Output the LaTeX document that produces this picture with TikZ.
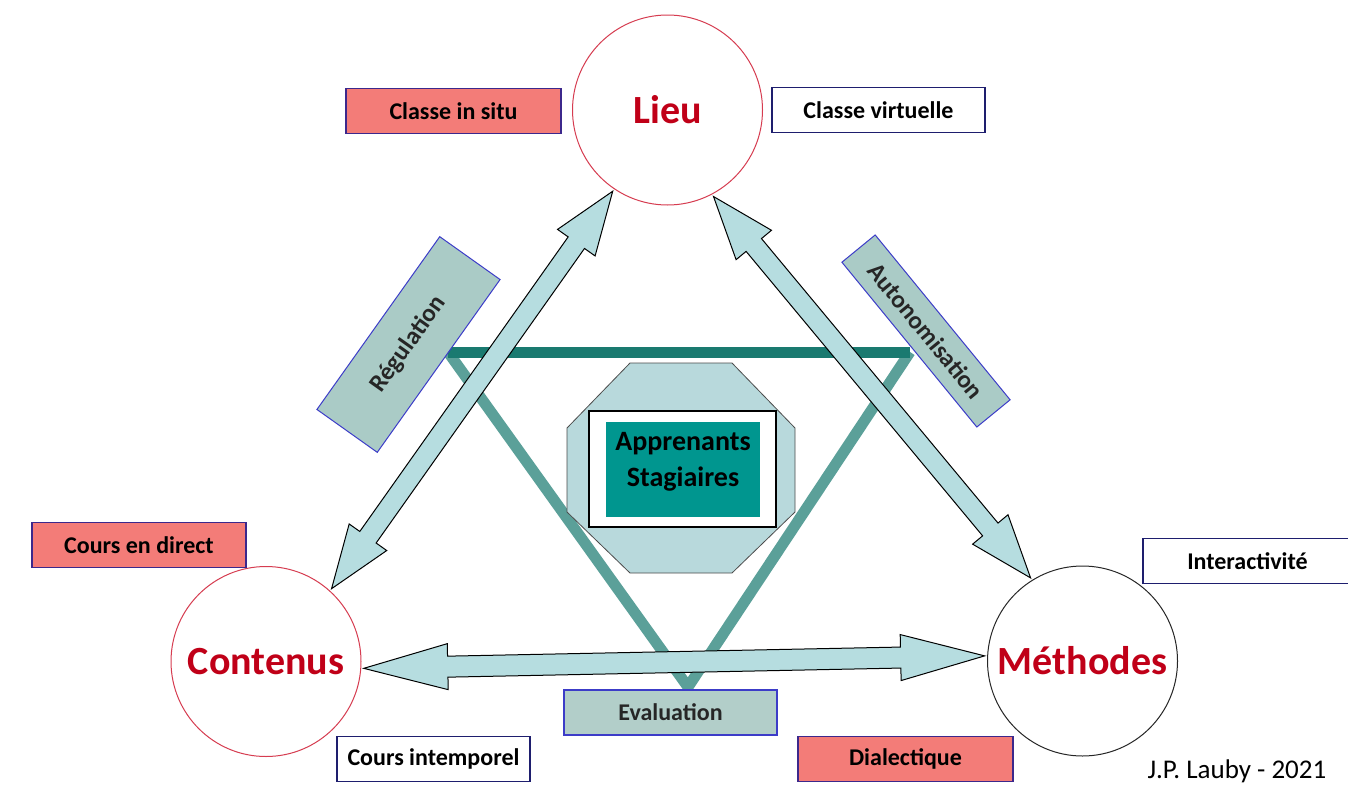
\documentclass[tikz,border=0pt]{standalone}
\usepackage{fontspec}
\setmainfont{Carlito}
\usetikzlibrary{calc}
\definecolor{pinkfill}{RGB}{243,124,120}
\definecolor{pinkborder}{RGB}{60,40,140}
\definecolor{navyborder}{RGB}{30,30,110}
\definecolor{evalfill}{RGB}{178,206,201}
\definecolor{blueborder}{RGB}{60,60,200}
\definecolor{rotfill}{RGB}{170,203,198}
\definecolor{arrfill}{RGB}{182,221,224}
\definecolor{octfill}{RGB}{184,217,220}
\definecolor{tealbox}{RGB}{0,150,143}
\definecolor{barcol}{RGB}{26,122,112}
\definecolor{sidecol}{RGB}{91,160,153}
\definecolor{circred}{RGB}{214,60,80}
\definecolor{labred}{RGB}{192,0,24}
\newcommand{\dblarr}[5]{%
  \fill[arrfill, draw=black, line width=1pt, line join=miter]
    (#1) -- ($($(#1)!#3!(#2)$)!#5!90:(#2)$) -- ($($(#1)!#3!(#2)$)!#4!90:(#2)$)
    -- ($($(#2)!#3!(#1)$)!#4!-90:(#1)$) -- ($($(#2)!#3!(#1)$)!#5!-90:(#1)$)
    -- (#2) -- ($($(#2)!#3!(#1)$)!#5!90:(#1)$) -- ($($(#2)!#3!(#1)$)!#4!90:(#1)$)
    -- ($($(#1)!#3!(#2)$)!#4!-90:(#2)$) -- ($($(#1)!#3!(#2)$)!#5!-90:(#2)$) -- cycle;}
\tikzset{
  bignode/.style={circle, minimum size=190pt, inner sep=0pt, outer sep=3pt, line width=1pt,
    text=labred, font=\fontsize{40}{46}\selectfont\bfseries},
  pinkbox/.style={rectangle, fill=pinkfill, draw=pinkborder, line width=1.2pt, inner sep=0pt,
    minimum height=45pt, font=\fontsize{24}{28}\selectfont\bfseries},
  whitebox/.style={rectangle, fill=white, draw=navyborder, line width=1.2pt, inner sep=0pt,
    minimum height=45pt, font=\fontsize{24}{28}\selectfont\bfseries},
  rotbox/.style={rectangle, fill=rotfill, draw=blueborder, line width=1pt, inner sep=0pt,
    font=\fontsize{25}{29}\selectfont\bfseries, text=black!85},
}
\begin{document}
\begin{tikzpicture}[x=1pt, y=-1pt]
\fill[white] (0,0) rectangle (1348,787);
\useasboundingbox (0,0) rectangle (1348,787);
% triangle
\coordinate (tl) at (448,352);
\coordinate (tr) at (910,352);
\coordinate (bt) at (688,687);
\draw[sidecol, line width=11pt, line join=round] (tl) -- (bt) -- (tr);
\draw[barcol, line width=11pt] (tl) -- (tr);
% octagon
\fill[octfill, draw=black!70, line width=0.8pt] (630,363) -- (732,363) -- (795,428) -- (795,512)
  -- (732,573) -- (630,573) -- (567,512) -- (567,428) -- cycle;
\node[rectangle, fill=white, draw=black, line width=1.6pt, minimum width=187pt, minimum height=116pt] (wbox) at (682.5,469) {};
\node[rectangle, fill=tealbox, minimum width=154pt, minimum height=95pt, inner sep=0pt] (appr) at (683,469.5) {};
\node[align=center, font=\fontsize{28}{36}\selectfont\bfseries, text=black, inner sep=0pt] (apprtxt) at (683,462)
  {Apprenants\\Stagiaires};
% rotated boxes
\node[rotbox, rotate=54.6, minimum width=212pt, minimum height=74pt] (regul) at (408.5,344.5) {Régulation};
\node[rotbox, rotate=-50.7, minimum width=213pt, minimum height=43pt] (auton) at (926,331) {Autonomisation};
% circles
\node[bignode, draw=circred] (lieu) at (667.5,110) {Lieu};
\node[bignode, draw=circred] (cont) at (266,661.5) {Contenus};
\node[bignode, draw=black!85] (meth) at (1082.5,661) {Méthodes};
% arrows
\dblarr{lieu.236.5}{cont.48.3}{63pt}{10pt}{23pt}
\dblarr{lieu.298}{meth.122}{63pt}{10pt}{23pt}
\dblarr{cont.-4}{meth.177.6}{84pt}{10.5pt}{23pt}
% small boxes
\node[pinkbox, minimum width=215pt] (insitu) at (453.5,111) {Classe in situ};
\node[whitebox, minimum width=213pt] (virt) at (878.5,110) {Classe virtuelle};
\node[pinkbox, minimum width=214pt] (direct) at (139,545) {Cours en direct};
\node[whitebox, minimum width=209pt] (inter) at (1247.5,561) {Interactivité};
\node[whitebox, minimum width=193pt] (intemp) at (433.5,759) {Cours intemporel};
\node[pinkbox, minimum width=215pt] (dial) at (905.5,759) {Dialectique};
\node[rectangle, fill=evalfill, draw=blueborder, line width=1.2pt, minimum width=213pt, minimum height=45pt,
  inner sep=0pt, font=\fontsize{24}{28}\selectfont\bfseries, text=black!85] (eval) at (670.5,712.5) {Evaluation};
\node[font=\fontsize{27}{32}\selectfont, text=black] (auth) at (1237,771) {J.P. Lauby - 2021};
\end{tikzpicture}
\end{document}
